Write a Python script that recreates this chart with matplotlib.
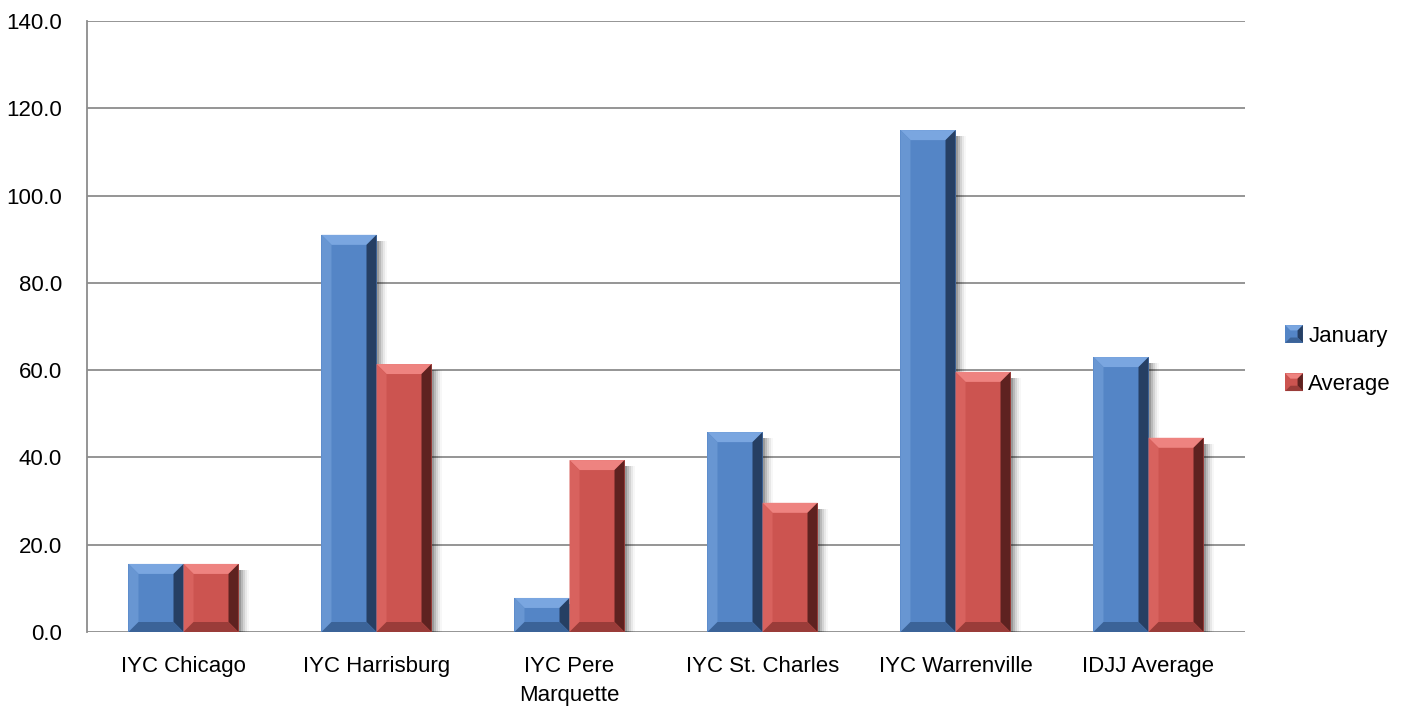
import numpy as np
import matplotlib
matplotlib.use("Agg")
import matplotlib.pyplot as plt
from matplotlib.patches import Polygon, Rectangle
from matplotlib.legend_handler import HandlerBase

plt.rcParams['font.family'] = ['Liberation Sans', 'DejaVu Sans']

# データ
categories = ["IYC Chicago", "IYC Harrisburg", "IYC Pere\nMarquette",
              "IYC St. Charles", "IYC Warrenville", "IDJJ Average"]
january = [15.6, 91.0, 7.8, 45.8, 115.0, 63.0]
average = [15.6, 61.4, 39.4, 29.6, 59.6, 44.5]
series_names = ["January", "Average"]

# 色（面, 上面, 左側, 右側, 下面）
blue = dict(face="#5485C6", top="#7AA6E0", left="#6896D2", right="#263F63", bottom="#3B6398")
red = dict(face="#CC5450", top="#EE8380", left="#D8625E", right="#5E2220", bottom="#9A3C39")

W, H = 1405, 711
fig = plt.figure(figsize=(W / 100, H / 100), dpi=100)
ax = fig.add_axes([87 / W, 79 / H, (1245 - 87) / W, (632 - 21) / H])

x = np.arange(len(categories))
bw = 0.285
ax.set_xlim(-0.5, len(categories) - 0.5)
ax.set_ylim(0, 140)

# ピクセル -> データ単位
px_x = (ax.get_xlim()[1] - ax.get_xlim()[0]) / (1245 - 87)
px_y = 140 / (632 - 21)


def bevel_bar(x0, w, h, c, zorder=3):
    bx = 10 * px_x
    by = min(10 * px_y, h / 2)
    bxx = min(bx, w / 2)
    # 影
    for i, a in enumerate([0.16, 0.12, 0.09, 0.06, 0.03]):
        off = (2 + 2 * i) * px_x
        ax.add_patch(Rectangle((x0 + off, -4 * px_y), w, h - 2 * px_y,
                               facecolor="black", alpha=a, edgecolor="none", zorder=zorder - 1))
    ax.add_patch(Rectangle((x0, 0), w, h, facecolor=c["face"], edgecolor="none", zorder=zorder))
    x1 = x0 + w
    ax.add_patch(Polygon([(x0, h), (x1, h), (x1 - bxx, h - by), (x0 + bxx, h - by)],
                         facecolor=c["top"], edgecolor="none", zorder=zorder + 1))
    ax.add_patch(Polygon([(x0, 0), (x0 + bxx, by), (x0 + bxx, h - by), (x0, h)],
                         facecolor=c["left"], edgecolor="none", zorder=zorder + 1))
    ax.add_patch(Polygon([(x1, 0), (x1 - bxx, by), (x1 - bxx, h - by), (x1, h)],
                         facecolor=c["right"], edgecolor="none", zorder=zorder + 1))
    ax.add_patch(Polygon([(x0, 0), (x1, 0), (x1 - bxx, by), (x0 + bxx, by)],
                         facecolor=c["bottom"], edgecolor="none", zorder=zorder + 1))


# 棒はbarで位置を決めてから、面取りを重ねる
bars_j = ax.bar(x - bw / 2, january, bw, color=blue["face"], zorder=3)
bars_a = ax.bar(x + bw / 2, average, bw, color=red["face"], zorder=3)
for bars, c in [(bars_j, blue), (bars_a, red)]:
    for r in bars:
        bevel_bar(r.get_x(), r.get_width(), r.get_height(), c)

# 軸の装飾
yt = np.arange(0, 141, 20)
ax.set_yticks(yt)
ax.set_yticklabels([f"{v:.1f}" for v in yt])
ax.set_xticks(x)
ax.set_xticklabels(categories, linespacing=1.5)
ax.tick_params(axis="both", length=0, labelsize=16, colors="black")
ax.tick_params(axis="y", pad=18)
ax.tick_params(axis="x", pad=17)
ax.yaxis.grid(True, color="#8C8C8C", lw=1.3)
ax.set_axisbelow(True)
for s in ["top", "right", "bottom"]:
    ax.spines[s].set_visible(False)
ax.spines["left"].set_color("#8C8C8C")
ax.spines["left"].set_linewidth(1.3)


class BevelHandler(HandlerBase):
    def __init__(self, c):
        super().__init__()
        self.c = c

    def create_artists(self, legend, orig_handle, xdescent, ydescent, width, height, fontsize, trans):
        s = min(width, height)
        x0 = width - s
        y0 = -ydescent + (height - s) / 2
        b = s * 0.3
        c = self.c
        x1, y1 = x0 + s, y0 + s
        arts = [Rectangle((x0, y0), s, s, facecolor=c["face"], edgecolor="none", transform=trans)]
        arts.append(Polygon([(x0, y1), (x1, y1), (x1 - b, y1 - b), (x0 + b, y1 - b)], facecolor=c["top"], edgecolor="none", transform=trans))
        arts.append(Polygon([(x1, y0), (x1 - b, y0 + b), (x1 - b, y1 - b), (x1, y1)], facecolor=c["right"], edgecolor="none", transform=trans))
        arts.append(Polygon([(x0, y0), (x1, y0), (x1 - b, y0 + b), (x0 + b, y0 + b)], facecolor=c["bottom"], edgecolor="none", transform=trans))
        return arts


leg = fig.legend([bars_j, bars_a], series_names,
                 handler_map={bars_j: BevelHandler(blue), bars_a: BevelHandler(red)},
                 loc="center left", bbox_to_anchor=(1284 / W, (711 - 360) / H),
                 frameon=False, fontsize=16, handlelength=0.85, handleheight=0.85,
                 handletextpad=0.25, labelspacing=1.2, borderaxespad=0, borderpad=0)

fig.savefig("out.png", dpi=100)
